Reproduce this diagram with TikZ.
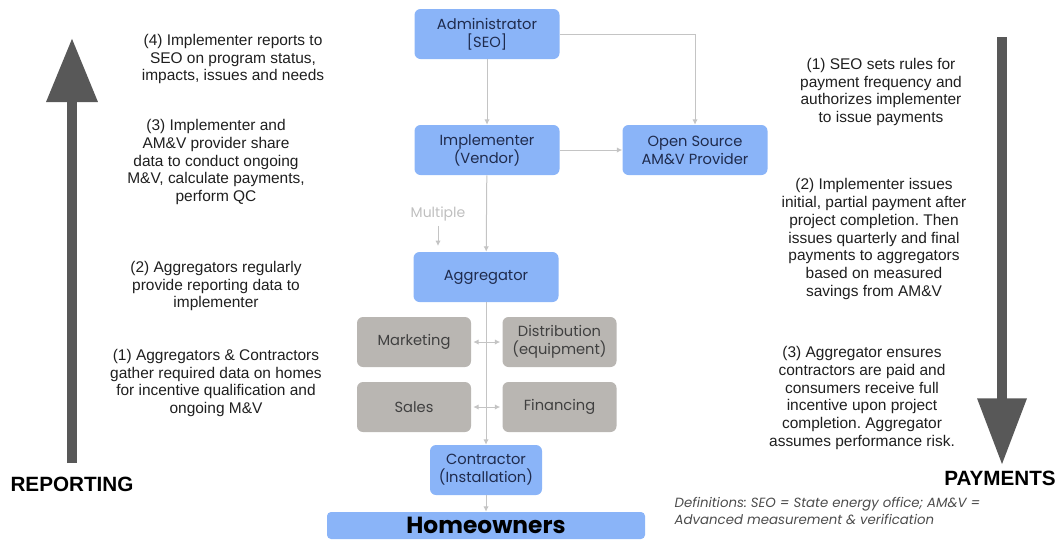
\documentclass[tikz,border=0pt]{standalone}
\usepackage{fontspec}
\setmainfont{Liberation Sans}
\newfontfamily\boxfont{Poppins}
\usepackage{xcolor}
\usetikzlibrary{positioning,arrows.meta}
\frenchspacing
\definecolor{boxblue}{HTML}{8AB4F8}
\definecolor{boxgrey}{HTML}{B9B6B2}
\definecolor{navytext}{HTML}{1F2B4D}
\definecolor{linegrey}{HTML}{C4C4C4}
\definecolor{arrowgrey}{HTML}{585858}
\tikzstyle{bluebox} = [rectangle, rounded corners=4.5pt, minimum width=108.75pt, minimum height=37.5pt, inner sep=0pt, align=center, fill=boxblue, text=navytext, font=\boxfont\fontsize{11}{13.5}\selectfont]
\tikzstyle{greybox} = [rectangle, rounded corners=4.5pt, minimum width=85.5pt, minimum height=37.5pt, inner sep=0pt, align=center, fill=boxgrey, text=black!75, font=\boxfont\fontsize{11}{13.5}\selectfont]
\tikzstyle{note} = [align=center, text=black!88, font=\fontsize{11.6}{13.3}\selectfont]
\tikzstyle{banner} = [text=black, font=\bfseries\fontsize{15.5}{18}\selectfont]
\tikzstyle{link} = [draw=linegrey, line width=0.75pt, -{Latex[length=4pt,width=4pt]}]
\tikzstyle{dlink} = [draw=linegrey, line width=0.75pt, {Latex[length=4pt,width=4pt]}-{Latex[length=4pt,width=4pt]}, shorten <=1.5pt, shorten >=1.5pt]
\tikzstyle{bigarrow} = [draw=arrowgrey, line width=7.5pt]

\begin{document}
\begin{tikzpicture}[x=0.75pt, y=-0.75pt]
	\useasboundingbox (0,0) rectangle (1062,540);

	\node (admin) [bluebox] at (487,34) {Administrator\\{}[SEO]};
	\node (impl) [bluebox] at (487,150) {Implementer\\(Vendor)};
	\node (osp) [bluebox] at (695,150) {Open Source\\AM\&V Provider};
	\node (agg) [bluebox] at (486,277) {Aggregator};
	\node (mkt) [greybox] at (414,342) {Marketing};
	\node (dist) [greybox] at (559.5,342) {Distribution\\(equipment)};
	\node (sales) [greybox] at (414,407) {Sales};
	\node (fin) [greybox] at (559.5,407) {Financing};
	\node (contr) [bluebox, minimum width=84pt] at (486,470) {Contractor\\(Installation)};
	\node (home) [bluebox, minimum width=238.5pt, minimum height=20.25pt, rounded corners=3pt, text=black, font=\boxfont\bfseries\fontsize{17.5}{18}\selectfont] at (486,525.5) {Homeowners};
	\node (multi) [text=black!25, font=\boxfont\fontsize{10.5}{12}\selectfont] at (438,214) {Multiple};
	\coordinate (multiend) at (438,246);

	\draw [link] (admin) -- (impl);
	\draw [link] (admin.east) -| (osp.north);
	\draw [link] (impl) -- (osp);
	\draw [link] (impl) -- (agg);
	\draw [link] (multi) -- (multiend);
	\draw [link] (agg) -- (contr);
	\draw [dlink] (mkt) -- (dist);
	\draw [dlink] (sales) -- (fin);
	\draw [link] (contr) -- (home);

	\coordinate (repbase) at (72,463);
	\coordinate (reptip) at (72,38);
	\draw [bigarrow, -{Triangle[width=36.75pt,length=48pt]}] (repbase) -- (reptip);
	\node (reporting) [banner] at (72,484) {REPORTING};

	\coordinate (paybase) at (1002,37);
	\coordinate (paytip) at (1002,465);
	\draw [bigarrow, -{Triangle[width=35.25pt,length=50pt]}] (paybase) -- (paytip);
	\node (payments) [banner] at (1000,478) {PAYMENTS};

	\node (rep4) [note] at (233,59) {(4) Implementer reports to\\SEO on program status,\\impacts, issues and needs};
	\node (rep3) [note] at (216,162) {(3) Implementer and\\AM\&V provider share\\data to conduct ongoing\\M\&V, calculate payments,\\perform QC};
	\node (rep2) [note] at (216,286) {(2) Aggregators regularly\\provide reporting data to\\implementer};
	\node (rep1) [note] at (216,383) {(1) Aggregators \& Contractors\\gather required data on homes\\for incentive qualification and\\ongoing M\&V};

	\node (pay1) [note] at (881,92) {(1) SEO sets rules for\\payment frequency and\\authorizes implementer\\to issue payments};
	\node (pay2) [note] at (874,239) {(2) Implementer issues\\initial, partial payment after\\project completion. Then\\issues quarterly and final\\payments to aggregators\\based on measured\\savings from AM\&V};
	\node (pay3) [note] at (862,398) {(3) Aggregator ensures\\contractors are paid and\\consumers receive full\\incentive upon project\\completion. Aggregator\\assumes performance risk.};

	\node (defs) [anchor=west, align=left, text=black!70, font=\boxfont\itshape\fontsize{10}{12.75}\selectfont] at (670,511) {Definitions: SEO = State energy office; AM\&V =\\Advanced measurement \& verification};

\end{tikzpicture}
\end{document}
